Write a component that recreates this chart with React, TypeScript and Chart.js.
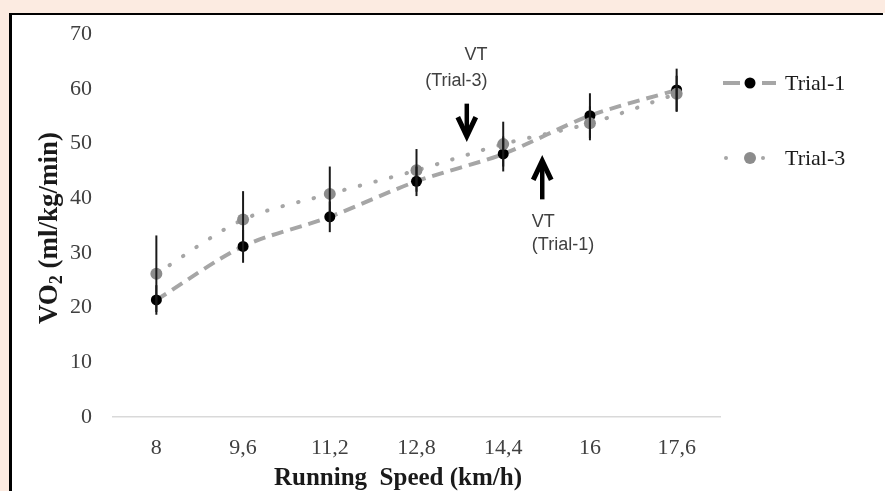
import { useEffect, useRef } from "react";
import { Chart, registerables } from "chart.js";

Chart.register(...registerables);

// ---- data ----
const speeds = ["8", "9,6", "11,2", "12,8", "14,4", "16", "17,6"];
const trial1 = [21.4, 31.2, 36.6, 43.1, 48.1, 55.1, 59.8];
const trial1Err = [2.7, 3.0, 2.8, 2.7, 3.2, 4.1, 3.9];
const trial3 = [26.2, 36.1, 40.8, 45.1, 49.9, 53.7, 59.1];
const trial3Err = [7.0, 5.2, 5.0, 3.9, 4.1, 3.1, 3.3];
const yTickValues = [0, 10, 20, 30, 40, 50, 60, 70];
const seriesNames = ["Trial-1", "Trial-3"];

// annotation anchors in data units (category index, value)
const vtArrows = [
  { x: 3.58, from: 57.3, to: 50.3 },
  { x: 4.45, from: 39.8, to: 47.9 },
];
const vtTexts = [
  { x: 3.82, lines: ["VT", "(Trial-3)"], ys: [66.2, 61.4], align: "right" as CanvasTextAlign },
  { x: 4.33, lines: ["VT", "(Trial-1)"], ys: [35.7, 31.4], align: "left" as CanvasTextAlign },
];

const SERIF = '"Liberation Serif", "Times New Roman", serif';
const SANS = '"Liberation Sans", Arial, sans-serif';

function idxToPx(chart: any, i: number) {
  const xs = chart.scales.x;
  const a = xs.getPixelForValue(Math.floor(i));
  const b = xs.getPixelForValue(Math.floor(i) + 1);
  return a + (b - a) * (i - Math.floor(i));
}

const overlayPlugin = {
  id: "overlay",
  afterDatasetsDraw(chart: any) {
    const ctx = chart.ctx as CanvasRenderingContext2D;
    const ys = chart.scales.y;
    const xs = chart.scales.x;
    // error bars
    ctx.save();
    ctx.strokeStyle = "#1a1a1a";
    ctx.lineWidth = 2;
    const sets = [
      [trial1, trial1Err],
      [trial3, trial3Err],
    ];
    sets.forEach(([vals, errs]) => {
      vals.forEach((v, i) => {
        const px = xs.getPixelForValue(i);
        ctx.beginPath();
        ctx.moveTo(px, ys.getPixelForValue(v - errs[i]));
        ctx.lineTo(px, ys.getPixelForValue(v + errs[i]));
        ctx.stroke();
      });
    });
    ctx.restore();
  },
  afterDraw(chart: any) {
    const ctx = chart.ctx as CanvasRenderingContext2D;
    const ys = chart.scales.y;
    const area = chart.chartArea;

    // arrows
    ctx.save();
    ctx.fillStyle = "#000";
    ctx.strokeStyle = "#000";
    vtArrows.forEach((a) => {
      const x = idxToPx(chart, a.x);
      const y0 = ys.getPixelForValue(a.from);
      const y1 = ys.getPixelForValue(a.to);
      const dir = y1 > y0 ? 1 : -1;
      const head = 19;
      const half = 9;
      const lw = 5;
      const miter = lw / Math.sin(Math.atan(half / head));
      const tip = y1 - (dir * miter) / 2;
      ctx.lineWidth = 4.5;
      ctx.beginPath();
      ctx.moveTo(x, y0);
      ctx.lineTo(x, tip - dir * 4);
      ctx.stroke();
      ctx.lineWidth = lw;
      ctx.lineJoin = "miter";
      ctx.miterLimit = 10;
      ctx.lineCap = "butt";
      ctx.beginPath();
      ctx.moveTo(x - half, tip - dir * head);
      ctx.lineTo(x, tip);
      ctx.lineTo(x + half, tip - dir * head);
      ctx.stroke();
    });
    ctx.restore();

    // VT texts
    ctx.save();
    ctx.fillStyle = "#404040";
    ctx.font = `18px ${SANS}`;
    ctx.textBaseline = "middle";
    vtTexts.forEach((t) => {
      const x = idxToPx(chart, t.x);
      ctx.textAlign = t.align;
      t.lines.forEach((ln, k) => {
        ctx.fillText(ln, x, ys.getPixelForValue(t.ys[k]));
      });
    });
    ctx.restore();

    // legend
    ctx.save();
    const legendYs = [83, 158];
    chart.data.datasets.forEach((ds: any) => {
      const k = seriesNames.indexOf(ds.label);
      const y = legendYs[k];
      const x0 = area.right + 3;
      const xm = area.right + 30;
      const x1 = area.right + 56;
      ctx.strokeStyle = ds.borderColor;
      ctx.lineWidth = ds.borderWidth;
      ctx.lineCap = "butt";
      if (k === 0) {
        ctx.setLineDash([]);
        ctx.beginPath();
        ctx.moveTo(x0, y);
        ctx.lineTo(x0 + 17, y);
        ctx.moveTo(x1 - 14, y);
        ctx.lineTo(x1, y);
        ctx.stroke();
      } else {
        ctx.fillStyle = ds.borderColor;
        [x0 + 3, x1 - 13].forEach((dx) => {
          ctx.beginPath();
          ctx.arc(dx, y, 2, 0, Math.PI * 2);
          ctx.fill();
        });
      }
      ctx.fillStyle = ds.pointBackgroundColor;
      ctx.beginPath();
      ctx.arc(xm, y, ds.pointRadius, 0, Math.PI * 2);
      ctx.fill();
      ctx.fillStyle = "#1a1a1a";
      ctx.font = `22px ${SERIF}`;
      ctx.textAlign = "left";
      ctx.textBaseline = "middle";
      ctx.fillText(ds.label, area.right + 65, y + 1);
    });
    ctx.restore();

    // axis titles
    ctx.save();
    ctx.fillStyle = "#1a1a1a";
    ctx.textBaseline = "middle";
    ctx.font = `bold 25px ${SERIF}`;
    ctx.textAlign = "center";
    ctx.fillText("Running  Speed (km/h)", 398, 479);

    // y title with subscript
    const big = `bold 27px ${SERIF}`;
    const small = `bold 18px ${SERIF}`;
    ctx.font = big;
    const w1 = ctx.measureText("VO").width;
    const w3 = ctx.measureText(" (ml/kg/min)").width;
    ctx.font = small;
    const w2 = ctx.measureText("2").width;
    const total = w1 + w2 + w3;
    ctx.translate(48, 228);
    ctx.rotate(-Math.PI / 2);
    ctx.textAlign = "left";
    ctx.textBaseline = "alphabetic";
    let cx = -total / 2;
    ctx.font = big;
    ctx.fillText("VO", cx, 9);
    cx += w1;
    ctx.font = small;
    ctx.fillText("2", cx, 14);
    cx += w2;
    ctx.font = big;
    ctx.fillText(" (ml/kg/min)", cx, 9);
    ctx.restore();
  },
};

export default function App() {
  const ref = useRef<HTMLCanvasElement | null>(null);

  useEffect(() => {
    if (!ref.current) return;
    const chart = new Chart(ref.current, {
      type: "line",
      data: {
        labels: speeds,
        datasets: [
          {
            label: seriesNames[0],
            data: trial1,
            order: 2,
            borderColor: "#a6a6a6",
            borderWidth: 4,
            borderDash: [12, 7],
            borderCapStyle: "butt",
            tension: 0.3,
            pointRadius: 5.5,
            pointBackgroundColor: "#000000",
            pointBorderWidth: 0,
            pointBorderColor: "#000000",
            fill: false,
          },
          {
            label: seriesNames[1],
            data: trial3,
            order: 1,
            borderColor: "#a6a6a6",
            borderWidth: 4,
            borderDash: [0.5, 15.5],
            borderCapStyle: "round",
            tension: 0.3,
            pointRadius: 6,
            pointBackgroundColor: "#8c8c8c",
            pointBorderWidth: 0,
            pointBorderColor: "#8c8c8c",
            fill: false,
          },
        ],
      },
      options: {
        animation: false,
        responsive: false,
        devicePixelRatio: 1,
        layout: { padding: { top: 27, right: 165, left: 0, bottom: 0 } },
        plugins: {
          legend: { display: false },
          tooltip: { enabled: false },
        },
        scales: {
          x: {
            type: "category",
            offset: true,
            grid: { display: false, drawTicks: false },
            border: { display: true, color: "#d9d9d9", width: 1.5 },
            ticks: {
              font: { family: SERIF, size: 22 },
              color: "#404040",
              padding: 18,
            },
            afterFit: (s: any) => {
              s.height = 74;
            },
          },
          y: {
            min: 0,
            max: 70,
            afterBuildTicks: (s: any) => {
              s.ticks = yTickValues.map((v) => ({ value: v }));
            },
            grid: { display: false, drawTicks: false },
            border: { display: false },
            ticks: {
              font: { family: SERIF, size: 22 },
              color: "#404040",
              padding: 21,
            },
            afterFit: (s: any) => {
              s.width = 113;
            },
          },
        },
      },
      plugins: [overlayPlugin],
    });
    return () => chart.destroy();
  }, []);

  return (
    <div
      style={{
        position: "fixed",
        left: 0,
        top: 0,
        width: 885,
        height: 491,
        background: "#fcebe1",
        overflow: "hidden",
      }}
    >
      <div
        style={{
          position: "absolute",
          left: 9,
          top: 13,
          right: 2,
          bottom: 0,
          background: "#ffffff",
          borderLeft: "3px solid #000",
          borderTop: "2px solid #000",
        }}
      />
      <div
        style={{
          position: "absolute",
          left: 883,
          top: 13,
          width: 2,
          height: 478,
          background: "#ffffff",
        }}
      />
      <canvas
        ref={ref}
        width={885}
        height={491}
        style={{ position: "absolute", left: 0, top: 0, width: 885, height: 491 }}
      />
    </div>
  );
}
